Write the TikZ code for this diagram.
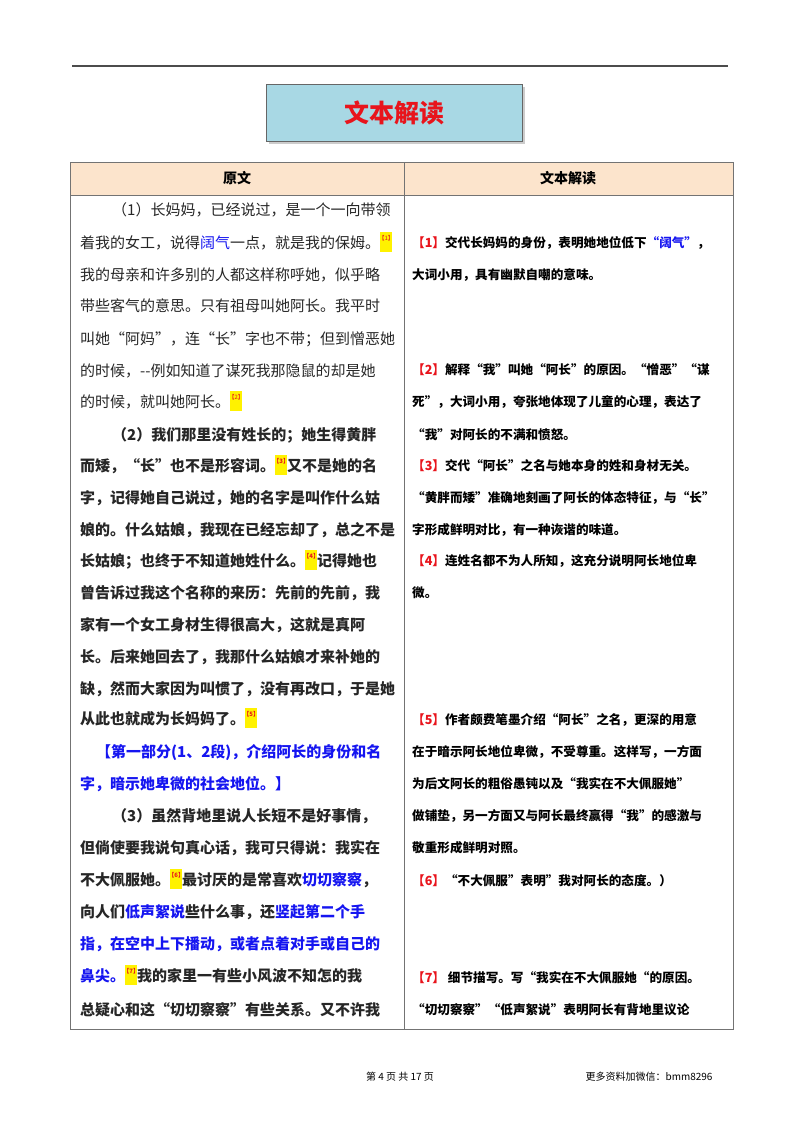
\documentclass[tikz,border=0pt]{standalone}
\usepackage{fontspec}
\setmainfont{Noto Sans CJK SC}
\usetikzlibrary{shadows}
\definecolor{tblue}{HTML}{1515F0}
\definecolor{tred}{HTML}{E8141C}
\definecolor{titlebg}{HTML}{A8D8E4}
\definecolor{headbg}{HTML}{FCE4CC}
\newcommand{\mk}[1]{{\setlength{\fboxsep}{0pt}\raisebox{-3pt}{\colorbox{yellow}{\rule{0pt}{20pt}\makebox[12pt]{\raisebox{11pt}{\fontsize{6}{6}\selectfont\color{tred}【#1】}}}}}}
\newcommand{\rn}[1]{{\color{tred}【#1】}}
\newcommand{\bl}[1]{{\color{tblue}#1}}
\tikzset{
 lt/.style={anchor=base west,inner sep=0pt,yshift=-5.5pt,font=\fontsize{15}{16}\selectfont,text=black!85},
 ltb/.style={lt,font=\fontsize{15}{16}\selectfont\bfseries},
 rt/.style={anchor=west,inner sep=0pt,font=\fontsize{12.6}{13}\selectfont\bfseries},
}
\begin{document}
\begin{tikzpicture}[x=1pt,y=-1pt]
\useasboundingbox (0,0) rectangle (800,1132);
\draw[line width=1.2pt,black!70] (72,66) -- (728,66);
\node[draw=black!60,fill=titlebg,minimum width=256,minimum height=57,drop shadow={opacity=0.4},inner sep=0] (title) at (394,112.5)
 {\fontsize{25}{27}\selectfont\bfseries\color{tred}文本解读};
% table
\fill[headbg] (70,162) rectangle (733,195);
\draw[black!55,line width=0.8pt] (70,162) rectangle (733,1029);
\draw[black!55,line width=0.8pt] (70,195) -- (733,195);
\draw[black!55,line width=0.8pt] (404,162) -- (404,1029);
\node[font=\fontsize{14}{14}\selectfont\bfseries] (h1) at (237,178.5) {原文};
\node[font=\fontsize{14}{14}\selectfont\bfseries] (h2) at (568,178.5) {文本解读};
% left column
\node[lt] (l1) at (112,210) {（1）长妈妈，已经说过，是一个一向带领};
\node[lt] (l2) at (80,243) {着我的女工，说得\bl{阔气}一点，就是我的保姆。\mk{1}};
\node[lt] (l3) at (80,275) {我的母亲和许多别的人都这样称呼她，似乎略};
\node[lt] (l4) at (80,306) {带些客气的意思。只有祖母叫她阿长。我平时};
\node[lt] (l5) at (80,339) {叫她“阿妈”，连“长”字也不带；但到憎恶她};
\node[lt] (l6) at (80,371) {的时候，-{}-例如知道了谋死我那隐鼠的却是她};
\node[lt] (l7) at (80,402) {的时候，就叫她阿长。\mk{2}};
\node[ltb] (l8) at (112,435) {（2）我们那里没有姓长的；她生得黄胖};
\node[ltb] (l9) at (80,466) {而矮，“长”也不是形容词。\mk{3}又不是她的名};
\node[ltb] (l10) at (80,498) {字，记得她自己说过，她的名字是叫作什么姑};
\node[ltb] (l11) at (80,530) {娘的。什么姑娘，我现在已经忘却了，总之不是};
\node[ltb] (l12) at (80,561) {长姑娘；也终于不知道她姓什么。\mk{4}记得她也};
\node[ltb] (l13) at (80,593) {曾告诉过我这个名称的来历：先前的先前，我};
\node[ltb] (l14) at (80,625) {家有一个女工身材生得很高大，这就是真阿};
\node[ltb] (l15) at (80,657) {长。后来她回去了，我那什么姑娘才来补她的};
\node[ltb] (l16) at (80,689) {缺，然而大家因为叫惯了，没有再改口，于是她};
\node[ltb] (l17) at (80,719) {从此也就成为长妈妈了。\mk{5}};
\node[ltb,text=tblue] (l18) at (96,752) {【第一部分(1、2段)，介绍阿长的身份和名};
\node[ltb,text=tblue] (l19) at (80,784) {字，暗示她卑微的社会地位。】};
\node[ltb] (l20) at (112,816) {（3）虽然背地里说人长短不是好事情，};
\node[ltb] (l21) at (80,848) {但倘使要我说句真心话，我可只得说：我实在};
\node[ltb] (l22) at (80,880) {不大佩服她。\mk{6}最讨厌的是常喜欢\bl{切切察察}，};
\node[ltb] (l23) at (80,912) {向人们\bl{低声絮说}些什么事，还\bl{竖起第二个手}};
\node[ltb] (l24) at (80,944) {\bl{指，在空中上下播动，或者点着对手或自己的}};
\node[ltb] (l25) at (80,976) {\bl{鼻尖。}\mk{7}我的家里一有些小风波不知怎的我};
\node[ltb] (l26) at (80,1010) {总疑心和这“切切察察”有些关系。又不许我};
% right column
\node[rt] (r1) at (412,243) {\rn{1}交代长妈妈的身份，表明她地位低下\bl{“阔气”}，};
\node[rt] (r2) at (412,275) {大词小用，具有幽默自嘲的意味。};
\node[rt] (r3) at (412,370) {\rn{2}解释“我”叫她“阿长”的原因。“憎恶”“谋};
\node[rt] (r4) at (412,402) {死”，大词小用，夸张地体现了儿童的心理，表达了};
\node[rt] (r5) at (412,435) {“我”对阿长的不满和愤怒。};
\node[rt] (r6) at (412,466) {\rn{3}交代“阿长”之名与她本身的姓和身材无关。};
\node[rt] (r7) at (412,498) {“黄胖而矮”准确地刻画了阿长的体态特征，与“长”};
\node[rt] (r8) at (412,530) {字形成鲜明对比，有一种诙谐的味道。};
\node[rt] (r9) at (412,561) {\rn{4}连姓名都不为人所知，这充分说明阿长地位卑};
\node[rt] (r10) at (412,593) {微。};
\node[rt] (r11) at (412,720) {\rn{5}作者颇费笔墨介绍“阿长”之名，更深的用意};
\node[rt] (r12) at (412,752) {在于暗示阿长地位卑微，不受尊重。这样写，一方面};
\node[rt] (r13) at (412,784) {为后文阿长的粗俗愚钝以及“我实在不大佩服她”};
\node[rt] (r14) at (412,816) {做铺垫，另一方面又与阿长最终赢得“我”的感激与};
\node[rt] (r15) at (412,848) {敬重形成鲜明对照。};
\node[rt] (r16) at (412,881) {\rn{6}“不大佩服”表明”我对阿长的态度。）};
\node[rt] (r17) at (412,978) {\rn{7}\ 细节描写。写“我实在不大佩服她“的原因。};
\node[rt] (r18) at (412,1010) {“切切察察”“低声絮说”表明阿长有背地里议论};
% footer
\node[font=\fontsize{10}{10}\selectfont] (f1) at (400,1077) {第 4 页 共 17 页};
\node[font=\fontsize{10}{10}\selectfont,anchor=east] (f2) at (716,1077) {更多资料加微信：bmm8296};
\end{tikzpicture}
\end{document}
